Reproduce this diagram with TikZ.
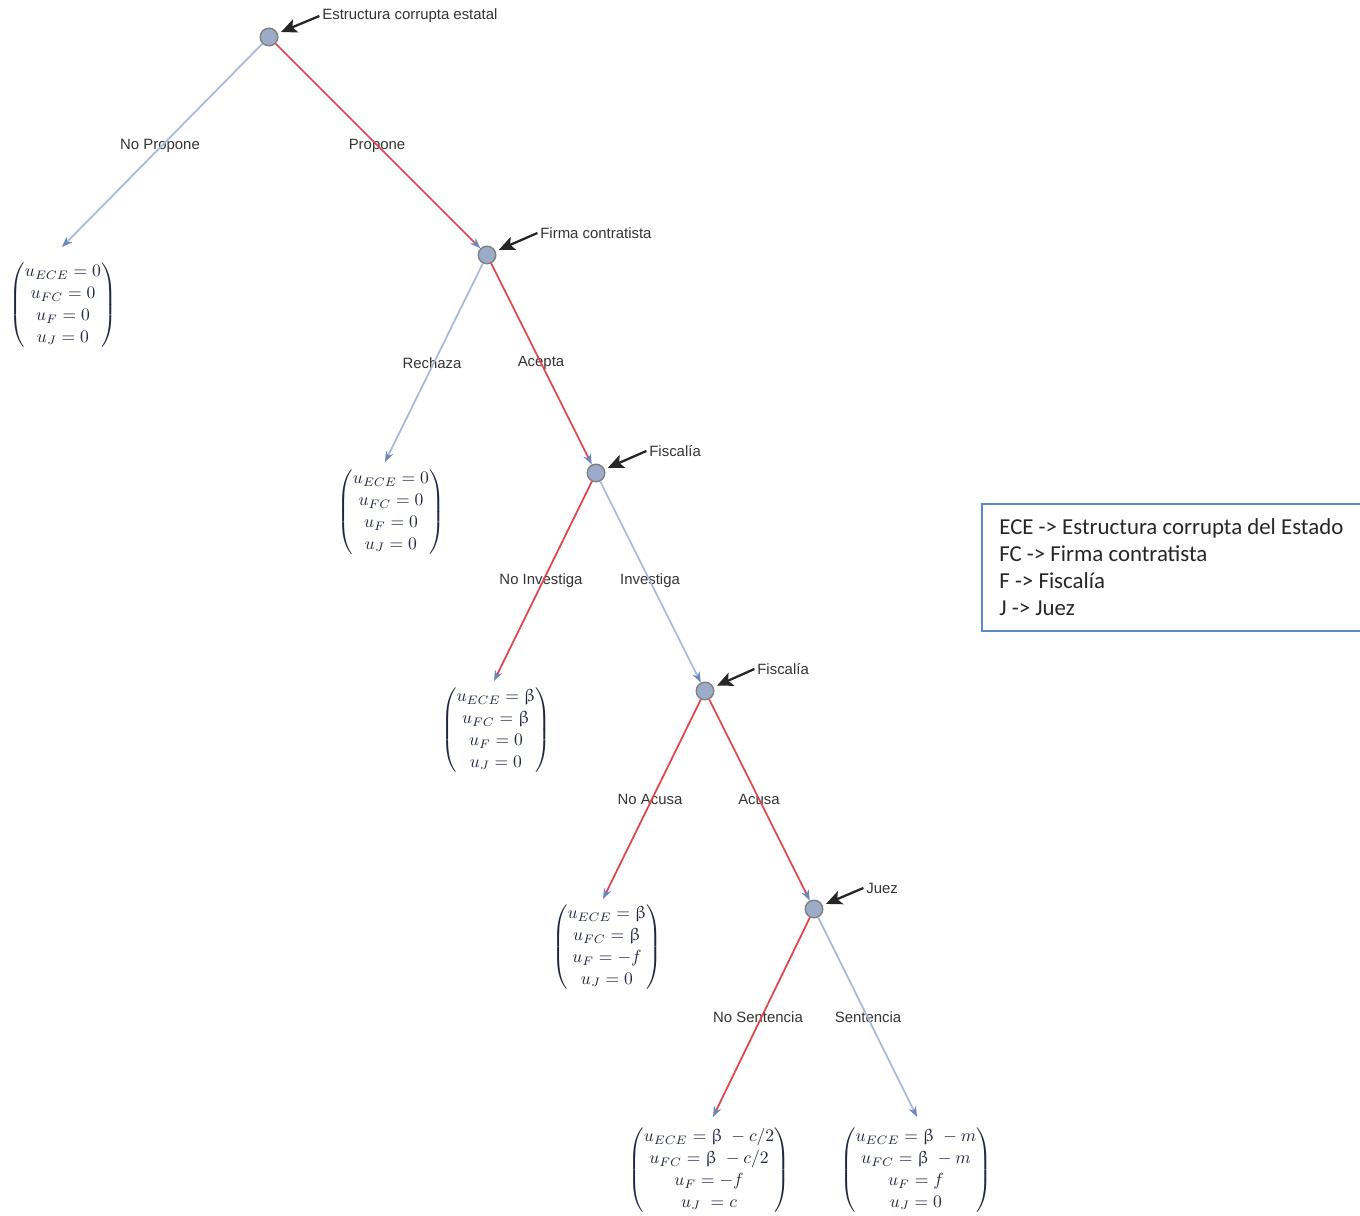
\documentclass[tikz,border=0pt]{standalone}
\usepackage{fontspec}
\usepackage{amsmath}
\usepackage{upgreek}
\setmainfont{Liberation Sans}
\newfontfamily\legendfont{Carlito}
\usetikzlibrary{arrows.meta}
\definecolor{edgeblue}{HTML}{A8BAD8}
\definecolor{edgered}{HTML}{E2444C}
\definecolor{tipblue}{HTML}{6A88BC}
\definecolor{nodefill}{HTML}{9BABC9}
\definecolor{nodeborder}{HTML}{808080}
\definecolor{labelgrey}{HTML}{333333}
\definecolor{mathnavy}{HTML}{1E2640}
\definecolor{boxblue}{HTML}{5A8AC6}
\begin{document}
\begin{tikzpicture}[x=0.02cm,y=-0.02cm,
  decnode/.style={circle,fill=nodefill,draw=nodeborder,line width=0.8pt,inner sep=0pt,minimum size=10pt},
  bedge/.style={draw=edgeblue,line width=1pt,-{Stealth[length=6pt,width=4.5pt,color=tipblue]}},
  redge/.style={draw=edgered,line width=1pt,-{Stealth[length=6pt,width=4.5pt,color=tipblue]}},
  elabel/.style={font=\fontsize{8.5}{10}\selectfont,text=labelgrey,inner sep=0pt},
  plabel/.style={font=\fontsize{8.5}{10}\selectfont,text=labelgrey,anchor=west,inner sep=0pt},
  parrow/.style={draw=black!85,line width=1.3pt,-{Stealth[length=9pt,width=8pt,inset=2pt]},shorten >=2pt},
  payoff/.style={text=mathnavy,inner sep=0pt,font=\fontsize{10}{12.5}\selectfont},
  legend/.style={font=\legendfont\fontsize{13}{15.4}\selectfont,text=black!85,anchor=north west,align=left,inner sep=0pt}
]
\useasboundingbox (0,0) rectangle (1360,1216);

% decision nodes
\node[decnode] (n1) at (269,37) {};
\node[decnode] (n2) at (487,255) {};
\node[decnode] (n3) at (596,473) {};
\node[decnode] (n4) at (705,691) {};
\node[decnode] (n5) at (814,909) {};

% arrow ends above payoffs
\coordinate (e1) at (62,247);
\coordinate (e2) at (385,462);
\coordinate (e3) at (494,681);
\coordinate (e4) at (603,899);
\coordinate (e5) at (713,1117);
\coordinate (e6) at (917,1117);

% payoff vectors
\node[payoff] (L1) at (63,305) {$\begin{pmatrix} u_{ECE}=0\\ u_{FC}=0\\ u_{F}=0\\ u_{J}=0\end{pmatrix}$};
\node[payoff] (L2) at (391,512) {$\begin{pmatrix} u_{ECE}=0\\ u_{FC}=0\\ u_{F}=0\\ u_{J}=0\end{pmatrix}$};
\node[payoff] (L3) at (496,730) {$\begin{pmatrix} u_{ECE}=\upbeta\\ u_{FC}=\upbeta\\ u_{F}=0\\ u_{J}=0\end{pmatrix}$};
\node[payoff] (L4) at (607,947) {$\begin{pmatrix} u_{ECE}=\upbeta\\ u_{FC}=\upbeta\\ u_{F}=-f\\ u_{J}=0\end{pmatrix}$};
\node[payoff] (L5) at (709,1170) {$\begin{pmatrix} u_{ECE}=\upbeta\ -c/2\\ u_{FC}=\upbeta\ -c/2\\ u_{F}=-f\\ u_{J}\ =c\end{pmatrix}$};
\node[payoff] (L6) at (916,1170) {$\begin{pmatrix} u_{ECE}=\upbeta\ -m\\ u_{FC}=\upbeta\ -m\\ u_{F}=f\\ u_{J}=0\end{pmatrix}$};

% edge labels (under the lines)
\node[elabel] (t1) at (160,146) {No Propone};
\node[elabel] (t2) at (377,146) {Propone};
\node[elabel] (t3) at (432,363) {Rechaza};
\node[elabel] (t4) at (541,363) {Acepta};
\node[elabel] (t5) at (541,581) {No Investiga};
\node[elabel] (t6) at (650,581) {Investiga};
\node[elabel] (t7) at (650,799) {No Acusa};
\node[elabel] (t8) at (759,799) {Acusa};
\node[elabel] (t9) at (758,1017) {No Sentencia};
\node[elabel] (t10) at (868,1017) {Sentencia};

% edges
\draw[bedge] (n1) -- (e1);
\draw[redge] (n1) -- (n2);
\draw[bedge] (n2) -- (e2);
\draw[redge] (n2) -- (n3);
\draw[redge] (n3) -- (e3);
\draw[bedge] (n3) -- (n4);
\draw[redge] (n4) -- (e4);
\draw[redge] (n4) -- (n5);
\draw[redge] (n5) -- (e5);
\draw[bedge] (n5) -- (e6);

% player labels
\node[plabel] (p1) at (322,16) {Estructura corrupta estatal};
\node[plabel] (p2) at (540,233) {Firma contratista};
\node[plabel] (p3) at (649,451) {Fiscalía};
\node[plabel] (p4) at (757,669) {Fiscalía};
\node[plabel] (p5) at (866,888) {Juez};
\draw[parrow] ([xshift=-1.5pt]p1.west) -- (n1);
\draw[parrow] ([xshift=-1.5pt]p2.west) -- (n2);
\draw[parrow] ([xshift=-1.5pt]p3.west) -- (n3);
\draw[parrow] ([xshift=-1.5pt]p4.west) -- (n4);
\draw[parrow] ([xshift=-1.5pt]p5.west) -- (n5);

% legend
\begin{scope}
\clip (0,0) rectangle (1360,1216);
\draw[boxblue,line width=1.3pt] (982,504) rectangle (1380,631);
\end{scope}
\node[legend] (lg) at (999,518) {ECE -> Estructura corrupta del Estado\\FC -> Firma contratista\\F -> Fiscalía\\J -> Juez};
\end{tikzpicture}
\end{document}
